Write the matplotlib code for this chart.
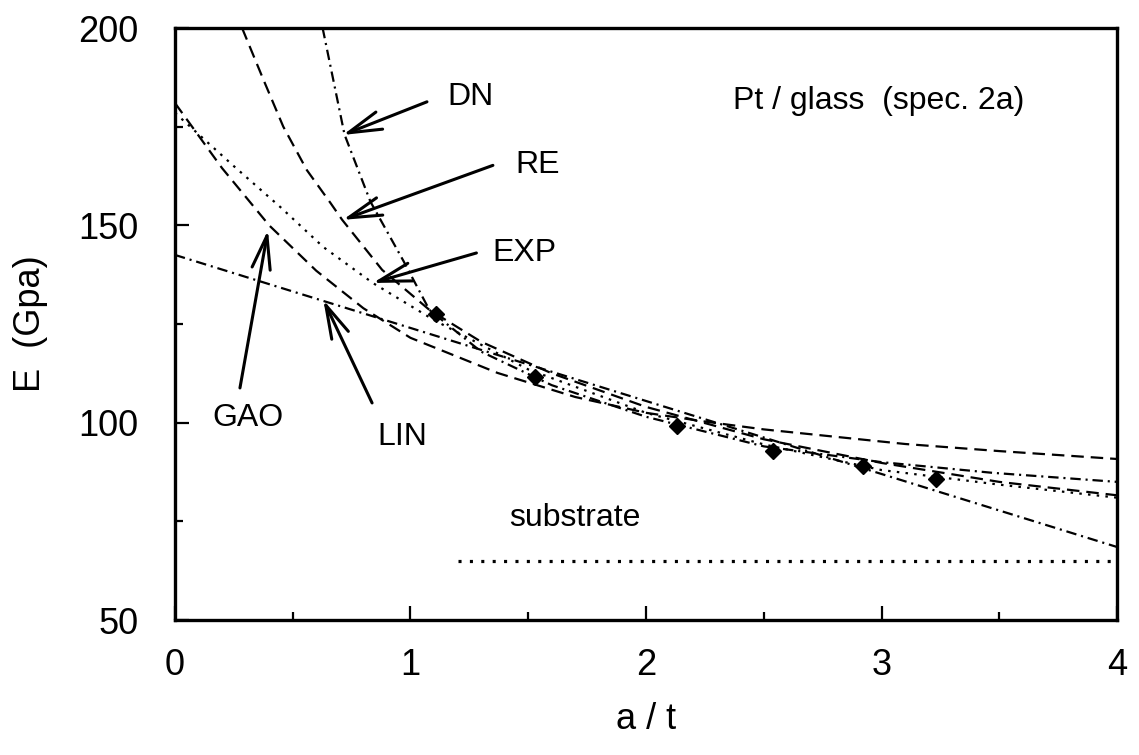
import numpy as np
import matplotlib.pyplot as plt
from matplotlib.ticker import MultipleLocator

plt.rcParams['font.family'] = ['Liberation Sans', 'DejaVu Sans']
plt.rcParams['lines.scale_dashes'] = False

# measured points (a/t, E in GPa)
at_meas = [1.11, 1.53, 2.13, 2.54, 2.92, 3.23]
E_meas = [127.5, 111.6, 99.2, 92.8, 89.0, 85.7]

# fitted curves
dn_x = [0.627, 0.72, 0.83, 0.97, 1.08, 1.3, 1.6, 2.0, 2.5, 3.0, 3.47, 4.0]
dn_y = [200, 173, 156, 141, 128.6, 118, 109.5, 101.5, 94.0, 90.0, 87.3, 85.0]

re_x = [0.285, 0.375, 0.46, 0.56, 0.66, 0.71, 0.88, 1.08, 1.3, 1.6, 2.0, 2.5, 3.0, 3.5, 4.0]
re_y = [200, 187, 175, 164, 155.7, 151.4, 138.7, 128.6, 120.5, 112.5, 104.0, 95.8, 89.8, 85.0, 81.6]

exp_x = [0.0, 0.25, 0.45, 0.63, 0.84, 1.1, 1.5, 2.0, 2.5, 3.0, 3.5, 4.0]
exp_y = [178.5, 165, 154.5, 144.5, 135.4, 126.0, 113.5, 102.5, 94.5, 88.0, 84.3, 81.0]

gao_x = [0.0, 0.2, 0.4, 0.6, 0.8, 1.0, 1.37, 1.7, 2.0, 2.26, 2.5, 3.1, 3.5, 4.0]
gao_y = [181, 164.5, 150, 138.5, 129, 121.5, 112.6, 106.5, 102.5, 100.2, 98.3, 94.6, 92.8, 90.8]

lin_x = [0.0, 4.0]
lin_y = [142.5, 68.5]

sub_x = [1.2, 4.0]
sub_y = [65, 65]

fig = plt.figure(figsize=(11.39, 7.55), dpi=100)
ax = fig.add_axes([0.1536, 0.1788, 0.8271, 0.7841])

lw = 1.6
dashed = (9, 5)
dashdot = (7.5, 3.5, 1.5, 3.5)
dotted = (1.8, 4.5)

ax.plot(dn_x, dn_y, color='black', lw=lw, dashes=dashdot)
ax.plot(re_x, re_y, color='black', lw=lw, dashes=dashed)
ax.plot(exp_x, exp_y, color='black', lw=lw, dashes=dotted)
ax.plot(gao_x, gao_y, color='black', lw=lw, dashes=dashed)
ax.plot(lin_x, lin_y, color='black', lw=lw, dashes=dashdot)
ax.plot(sub_x, sub_y, color='black', lw=2.3, dashes=(2.2, 6))
ax.plot(at_meas, E_meas, 'D', color='black', ms=8)

ax.set_xlim(0, 4)
ax.set_ylim(50, 200)
ax.xaxis.set_major_locator(MultipleLocator(1))
ax.xaxis.set_minor_locator(MultipleLocator(0.5))
ax.yaxis.set_major_locator(MultipleLocator(50))
ax.yaxis.set_minor_locator(MultipleLocator(25))
ax.tick_params(which='both', direction='in', top=False, right=False, width=1.6,
               labelsize=26)
ax.tick_params(axis='x', which='both', pad=20)
ax.tick_params(axis='y', which='both', pad=26)
ax.tick_params(which='major', length=10)
ax.tick_params(which='minor', length=6)
for s in ax.spines.values():
    s.set_linewidth(2.4)

ax.set_xlabel('a / t', fontsize=26, labelpad=14)
ax.set_ylabel('E  (Gpa)', fontsize=26, labelpad=22)

arr = dict(arrowstyle='->,head_length=0.8,head_width=0.22', lw=2.2,
           color='black', mutation_scale=30, shrinkA=0, shrinkB=0)
fs = 23
ax.annotate('', xy=(0.713, 172.9), xytext=(1.07, 181.3), arrowprops=arr)
ax.text(1.155, 182.5, 'DN', fontsize=fs, va='center')
ax.annotate('', xy=(0.713, 151.4), xytext=(1.35, 165.2), arrowprops=arr)
ax.text(1.444, 165.3, 'RE', fontsize=fs, va='center')
ax.annotate('', xy=(0.84, 135.4), xytext=(1.28, 143), arrowprops=arr)
ax.text(1.346, 143, 'EXP', fontsize=fs, va='center')
ax.annotate('', xy=(0.395, 148.8), xytext=(0.276, 108.8), arrowprops=arr)
ax.text(0.16, 101.2, 'GAO', fontsize=fs, va='center')
ax.annotate('', xy=(0.63, 131.1), xytext=(0.837, 105), arrowprops=arr)
ax.text(0.86, 96.4, 'LIN', fontsize=fs, va='center')

ax.text(2.37, 181.5, 'Pt / glass  (spec. 2a)', fontsize=fs, va='center')
ax.text(1.42, 75.9, 'substrate', fontsize=fs, va='center')

fig.savefig('out.png', dpi=100)
